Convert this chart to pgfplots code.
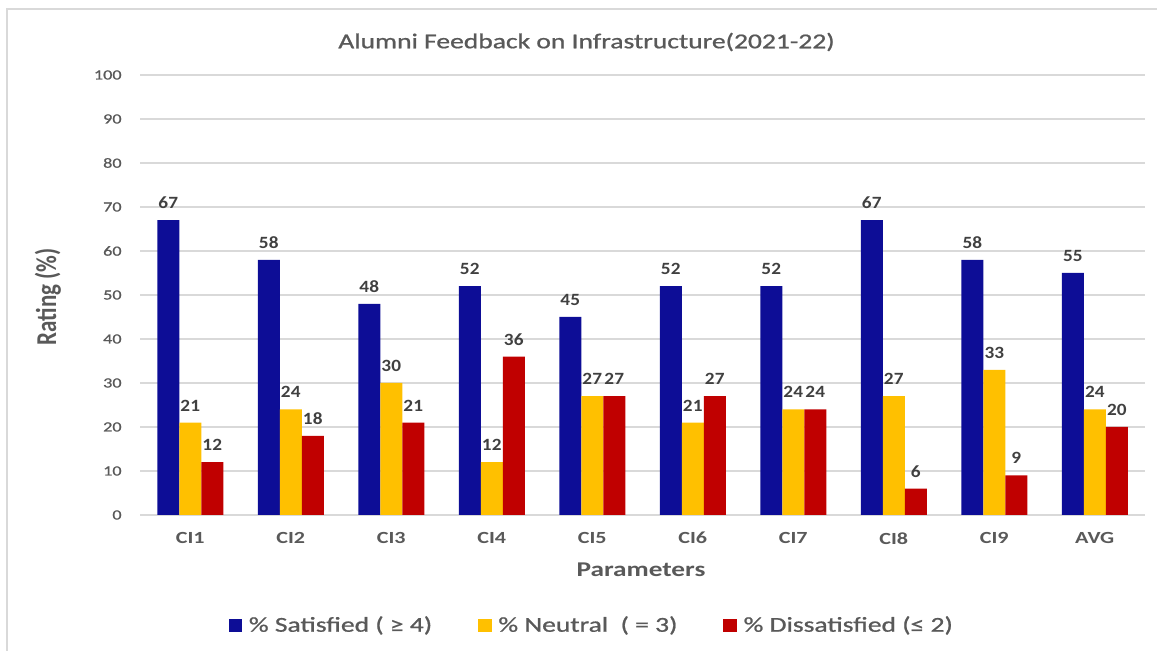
\documentclass[border=0pt]{standalone}
\usepackage{pgfplots}
\pgfplotsset{compat=1.18}
\usepackage{fontspec}
\setmainfont{Carlito}
\newfontfamily\semib[FakeBold=0.8]{Carlito}
\usepackage{graphicx}
\definecolor{cblue}{HTML}{0D0D96}
\definecolor{cyel}{HTML}{FFC000}
\definecolor{cred}{HTML}{C00000}
\definecolor{tgray}{HTML}{595959}
\definecolor{dgray}{HTML}{404040}
\definecolor{gridc}{HTML}{D9D9D9}
\newcommand\sx[1]{\scalebox{1.3}[1]{#1}}
\newcommand\sxl[1]{\scalebox{1.12}[1]{#1}}
\pgfplotsset{sqleg/.style={legend image code/.code={\fill[##1] (0pt,-3.4pt) rectangle (6.8pt,3.4pt);}}}
\begin{document}
\begin{tikzpicture}
\useasboundingbox (0,0) rectangle (578.5pt,325.5pt);
\draw[gridc, line width=1pt] (3.5pt,0) -- (3.5pt,321pt) -- (578.5pt,321pt);
\begin{axis}[
  at={(70pt,68pt)}, anchor=south west,
  scale only axis, width=502.5pt, height=220pt,
  ybar=0pt, bar width=11pt,
  xmin=-0.5, xmax=9.5, ymin=0, ymax=100,
  xtick={0,...,9},
  xticklabels={\sx{CI1},\sx{CI2},\sx{CI3},\sx{CI4},\sx{CI5},\sx{CI6},\sx{CI7},\sx{CI8},\sx{CI9},\sx{AVG}},
  ytick={0,10,...,100},
  yticklabels={\sx{0},\sx{10},\sx{20},\sx{30},\sx{40},\sx{50},\sx{60},\sx{70},\sx{80},\sx{90},\sx{100}},
  axis line style={draw=none},
  major tick length=0pt,
  ymajorgrids,
  grid style={gridc, line width=0.75pt},
  xticklabel style={font=\bfseries\fontsize{8.5}{10}\selectfont, text=tgray, anchor=north, inner sep=0pt, yshift=-8.5pt},
  yticklabel style={font=\semib\fontsize{7}{9}\selectfont, text=tgray, anchor=east, inner sep=0pt, xshift=-9pt},
  nodes near coords={\sxl{\pgfmathprintnumber[assume math mode=true]{\pgfplotspointmeta}}},
  every node near coord/.append style={font=\bfseries\fontsize{8.6}{10}\selectfont, text=dgray, anchor=south, inner sep=0pt, yshift=5.5pt},
  legend columns=3,
  legend style={at={(0.4486,-0.2511)}, anchor=center, draw=none, fill=none,
    font=\semib\fontsize{10.6}{12}\selectfont, text=tgray,
    /tikz/every even column/.append style={column sep=23pt},
    /tikz/every odd column/.append style={column sep=3.3pt},
    nodes={inner sep=0pt}},
  clip=false,
]
\addplot[fill=cblue, draw=none, sqleg] coordinates {(0,67) (1,58) (2,48) (3,52) (4,45) (5,52) (6,52) (7,67) (8,58) (9,55)};
\addplot[fill=cyel, draw=none, sqleg] coordinates {(0,21) (1,24) (2,30) (3,12) (4,27) (5,21) (6,24) (7,27) (8,33) (9,24)};
\addplot[fill=cred, draw=none, sqleg] coordinates {(0,12) (1,18) (2,21) (3,36) (4,27) (5,27) (6,24) (7,6) (8,9) (9,20)};
\addlegendentry{\sx{\% Satisfied ( ≥ 4)}}
\addlegendentry{\sx{\% Neutral~ ( = 3)}}
\addlegendentry{\sx{\% Dissatisfied (≤ 2)}}
\end{axis}
\node[font=\semib\fontsize{10.6}{12}\selectfont, text=tgray] at (293.25pt,304.5pt) {\sx{Alumni Feedback on Infrastructure(2021-22)}};
\node[rotate=90, font=\bfseries\fontsize{11.5}{13}\selectfont, text=tgray] at (24pt,177pt) {\scalebox{1}[1.25]{Rating (\%)}};
\node[font=\bfseries\fontsize{10.5}{12}\selectfont, text=tgray] at (320.5pt,40.5pt) {\sx{Parameters}};
\end{tikzpicture}
\end{document}
